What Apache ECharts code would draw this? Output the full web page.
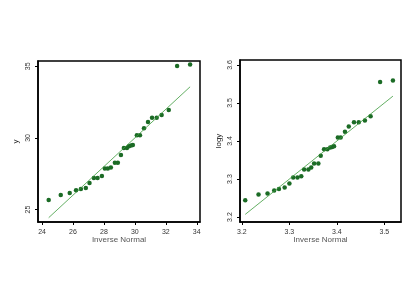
<!DOCTYPE html>
<html>
<head>
<meta charset="utf-8">
<script src="https://cdn.jsdelivr.net/npm/echarts@6/dist/echarts.min.js"></script>
<style>html,body{margin:0;padding:0;background:#fff}#c{width:418px;height:304px}</style>
</head>
<body>
<div id="c"></div>
<script>
// Left panel: y vs inverse normal
var invNormL = [24.43,25.21,25.79,26.20,26.51,26.83,27.07,27.35,27.59,27.87,28.06,28.25,28.45,28.71,28.90,29.10,29.29,29.49,29.62,29.75,29.87,30.13,30.33,30.59,30.85,31.11,31.41,31.73,32.19,32.73,33.57];
var yL = [25.67,26.02,26.16,26.35,26.44,26.51,26.86,27.21,27.21,27.35,27.86,27.86,27.93,28.26,28.26,28.81,29.30,29.30,29.42,29.47,29.51,30.19,30.19,30.67,31.12,31.40,31.40,31.60,31.95,35.02,35.12];
var refLineL = [24.43, 33.57];
var xTicksL = [24,26,28,30,32,34];
var yTicksL = [25,30,35];

// Right panel: logy vs inverse normal
var invNormR = [3.207,3.235,3.254,3.268,3.278,3.290,3.300,3.308,3.317,3.325,3.331,3.340,3.346,3.352,3.361,3.366,3.373,3.380,3.386,3.390,3.394,3.402,3.408,3.417,3.425,3.436,3.446,3.459,3.471,3.491,3.518];
var yR = [3.244,3.2595,3.262,3.270,3.274,3.278,3.288,3.304,3.304,3.307,3.325,3.325,3.330,3.341,3.341,3.361,3.378,3.378,3.383,3.384,3.386,3.409,3.409,3.424,3.438,3.449,3.449,3.454,3.465,3.555,3.559];
var refLineR = [3.207, 3.518];
var xTicksR = [3.2,3.3,3.4,3.5];
var yTicksR = [3.2,3.3,3.4,3.5,3.6];

var FONT = 'Liberation Sans';
function pairs(a,b){return a.map(function(v,i){return [v,b[i]];});}

function xAxis(idx,min,max,ticks,fmt){
  return {type:'value',gridIndex:idx,min:min,max:max,
    name:'Inverse Normal',nameLocation:'middle',nameGap:14,nameMoveOverlap:false,
    nameTextStyle:{fontFamily:FONT,fontSize:8,color:'#555'},
    axisLine:{show:true,lineStyle:{color:'#000',width:1.5}},
    axisTick:{show:true,length:3,lineStyle:{color:'#000'},customValues:ticks},
    axisLabel:{fontFamily:FONT,fontSize:7,color:'#333',margin:7,customValues:ticks,formatter:fmt},
    splitLine:{show:false}};
}
function yAxis(idx,min,max,ticks,name,gap,fmt){
  return {type:'value',gridIndex:idx,min:min,max:max,
    name:name,nameLocation:'middle',nameGap:gap,nameMoveOverlap:false,
    nameTextStyle:{fontFamily:FONT,fontSize:8,color:'#222'},
    axisLine:{show:true,lineStyle:{color:'#000',width:1.5}},
    axisTick:{show:true,length:3,lineStyle:{color:'#000'},customValues:ticks},
    axisLabel:{fontFamily:FONT,fontSize:7,color:'#333',margin:6,rotate:90,customValues:ticks,formatter:fmt},
    splitLine:{show:false}};
}

var chart = echarts.init(document.getElementById('c'),null,{renderer:'canvas'});
chart.setOption({
  animation:false,
  backgroundColor:'#fff',
  grid:[
    {left:38,right:218,top:61,bottom:82,show:true,borderColor:'#000',borderWidth:1.5,backgroundColor:'#fff'},
    {left:240,right:17,top:60,bottom:82,show:true,borderColor:'#000',borderWidth:1.5,backgroundColor:'#fff'}
  ],
  xAxis:[
    xAxis(0,23.74,34.21,xTicksL,function(v){return String(v);}),
    xAxis(1,3.196,3.535,xTicksR,function(v){return v.toFixed(1);})
  ],
  yAxis:[
    yAxis(0,24.13,35.37,yTicksL,'y',18,function(v){return String(v);}),
    yAxis(1,3.187,3.613,yTicksR,'logy',17,function(v){return v.toFixed(1);})
  ],
  series:[
    {type:'line',xAxisIndex:0,yAxisIndex:0,data:pairs(refLineL,refLineL),symbol:'none',
     lineStyle:{color:'#3c9a3c',width:0.8},silent:true},
    {type:'scatter',xAxisIndex:0,yAxisIndex:0,data:pairs(invNormL,yL),symbolSize:4.5,
     itemStyle:{color:'#1b6b25',opacity:1}},
    {type:'line',xAxisIndex:1,yAxisIndex:1,data:pairs(refLineR,refLineR),symbol:'none',
     lineStyle:{color:'#3c9a3c',width:0.8},silent:true},
    {type:'scatter',xAxisIndex:1,yAxisIndex:1,data:pairs(invNormR,yR),symbolSize:4.5,
     itemStyle:{color:'#1b6b25',opacity:1}}
  ]
});
</script>
</body>
</html>
